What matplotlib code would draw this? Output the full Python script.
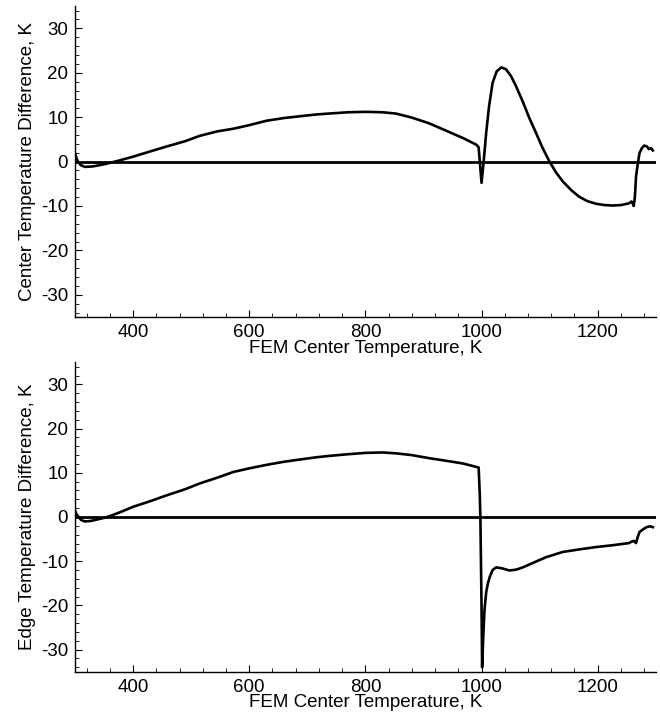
import matplotlib
matplotlib.use("Agg")
import matplotlib.pyplot as plt
from matplotlib.ticker import MultipleLocator

plt.rcParams['font.family'] = ['Liberation Sans', 'DejaVu Sans']
plt.rcParams['axes.unicode_minus'] = False

# Center temperature difference (top)
center_x = [300, 302, 305, 310, 317, 330, 343, 360, 375, 400, 430, 458, 490, 515, 545, 573, 600,
            630, 660, 687, 715, 736, 770, 800, 830, 853, 880, 910, 940, 968, 991, 995, 1000,
            1004, 1008, 1013, 1019, 1026, 1034, 1042, 1051, 1060, 1071, 1082, 1094, 1105, 1117,
            1128, 1140, 1155, 1168, 1182, 1197, 1212, 1226, 1240, 1254, 1258, 1260, 1262, 1264,
            1266, 1269, 1272, 1276, 1280, 1285, 1288, 1292, 1295]
center_y = [1.9, 1.0, 0.0, -0.8, -1.2, -1.1, -0.8, -0.3, 0.2, 1.1, 2.3, 3.4, 4.6, 5.8, 6.8, 7.4, 8.2,
            9.2, 9.8, 10.2, 10.6, 10.8, 11.1, 11.2, 11.1, 10.8, 9.9, 8.6, 6.9, 5.3, 3.8, 3.2, -4.8,
            0.5, 6.5, 12.5, 17.7, 20.3, 21.2, 20.8, 19.2, 16.8, 13.5, 9.9, 6.4, 3.1, 0.0,
            -2.4, -4.5, -6.5, -7.9, -8.9, -9.5, -9.8, -9.9, -9.8, -9.4, -9.0, -9.3, -10.0, -8.0,
            -3.4, -0.5, 1.9, 3.0, 3.6, 3.4, 2.8, 3.0, 2.5]

# Edge temperature difference (bottom)
edge_x = [300, 302, 306, 311, 317, 327, 337, 350, 360, 380, 400, 430, 458, 490, 515, 545, 573,
          600, 630, 660, 687, 715, 736, 770, 800, 830, 853, 880, 910, 940, 968, 995, 997,
          998, 1000, 1001, 1003, 1005, 1008, 1011, 1014, 1019, 1025, 1035, 1048, 1060, 1071,
          1090, 1111, 1140, 1170, 1197, 1225, 1254, 1258, 1262, 1264, 1266, 1269, 1272, 1278,
          1284, 1290, 1295]
edge_y = [1.5, 0.8, 0.0, -0.7, -1.0, -0.9, -0.6, -0.2, 0.2, 1.2, 2.3, 3.6, 4.9, 6.3, 7.6, 8.9, 10.2,
          11.0, 11.8, 12.5, 13.0, 13.5, 13.8, 14.2, 14.5, 14.6, 14.4, 14.0, 13.3, 12.7, 12.1, 11.2, 5.0,
          0.0, -20.0, -34.0, -27.0, -21.2, -17.0, -15.0, -13.6, -12.0, -11.4, -11.6, -12.1, -11.9, -11.4,
          -10.3, -9.1, -7.9, -7.3, -6.8, -6.4, -5.9, -5.6, -5.4, -5.6, -5.9, -4.5, -3.4, -2.8,
          -2.3, -2.1, -2.3]

xlim = (300, 1300)
ylim = (-35, 35)
xlabel = "FEM Center Temperature, K"
ylabels = ["Center Temperature Difference, K", "Edge Temperature Difference, K"]

fig = plt.figure(figsize=(6.6, 7.13), dpi=100)
ax1 = fig.add_axes([0.1136, 0.5554, 0.880, 0.436])
ax2 = fig.add_axes([0.1136, 0.0579, 0.880, 0.434])

for ax, xs, ys, yl in [(ax1, center_x, center_y, ylabels[0]), (ax2, edge_x, edge_y, ylabels[1])]:
    ax.axhline(0, color='black', lw=2.0, zorder=2)
    ax.plot(xs, ys, color='black', lw=1.9, zorder=3)
    ax.set_xlim(*xlim)
    ax.set_ylim(*ylim)
    ax.spines['top'].set_visible(False)
    ax.spines['right'].set_visible(False)
    ax.spines['left'].set_linewidth(1.0)
    ax.spines['bottom'].set_linewidth(1.0)
    ax.xaxis.set_major_locator(MultipleLocator(200))
    ax.xaxis.set_minor_locator(MultipleLocator(40))
    ax.yaxis.set_major_locator(MultipleLocator(10))
    ax.yaxis.set_minor_locator(MultipleLocator(2))
    ax.tick_params(which='both', direction='in', labelsize=13.5, pad=5)
    ax.tick_params(which='major', length=5, width=0.8)
    ax.tick_params(which='minor', length=3, width=0.6)
    ax.set_xlabel(xlabel, fontsize=13.5, labelpad=-1)
    ax.set_ylabel(yl, fontsize=13.5, labelpad=3)

fig.savefig("out.png", dpi=100)
